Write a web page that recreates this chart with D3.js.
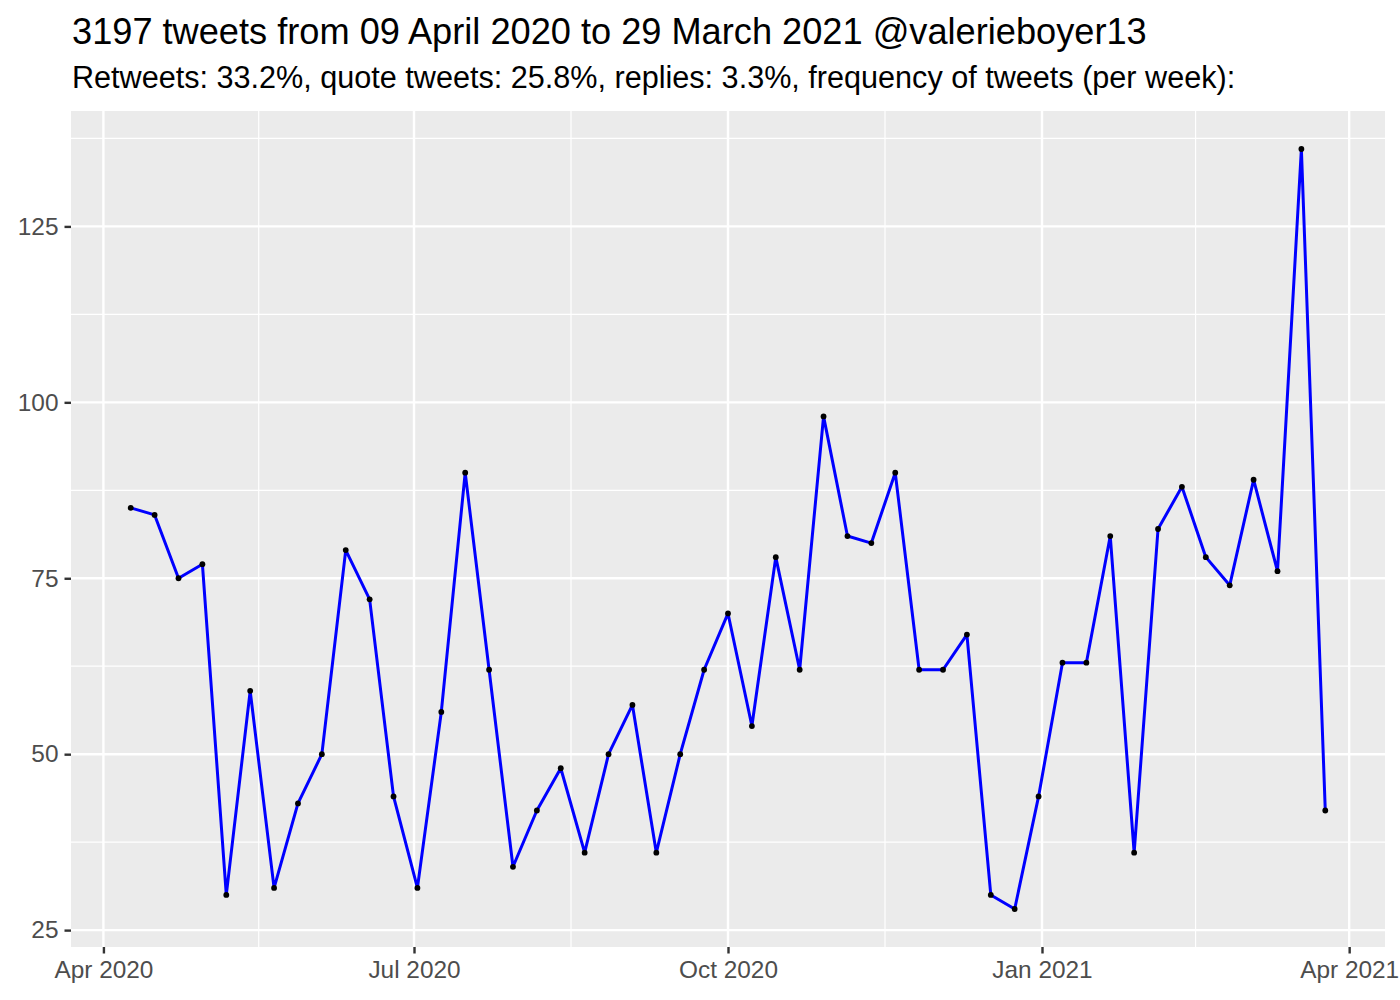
<!DOCTYPE html>
<html><head><meta charset="utf-8">
<script src="https://cdn.jsdelivr.net/npm/d3@7"></script>
<style>body{margin:0;background:#fff}</style>
</head><body>
<svg id="c" width="1400" height="1000"></svg>
<script>
const startDate = "2020-04-09";
const weeklyCounts = [85,84,75,77,30,59,31,43,50,79,72,44,31,56,90,62,34,42,48,36,50,57,36,50,62,70,54,78,62,98,81,80,90,62,62,67,30,28,44,63,63,81,36,82,88,78,74,89,76,136,42];
const yTicks = [25,50,75,100,125];
const yMinor = [37.5,62.5,87.5,112.5,137.5];
const xTickDates = ["2020-04-01","2020-07-01","2020-10-01","2021-01-01","2021-04-01"];
const xTickLabels = ["Apr 2020","Jul 2020","Oct 2020","Jan 2021","Apr 2021"];
const title = "3197 tweets from 09 April 2020 to 29 March 2021 @valerieboyer13";
const subtitle = "Retweets: 33.2%, quote tweets: 25.8%, replies: 3.3%, frequency of tweets (per week):";

const DAY = 86400000;
const t0 = new Date(startDate + "T00:00:00Z");
const data = weeklyCounts.map((v,i)=>({date:new Date(+t0 + i*7*DAY), value:v}));

const FONT = "Liberation Sans, Arial, Helvetica, sans-serif";
const svg = d3.select("#c");
const L=71, R=1385, T=111, B=947;
const dmin = data[0].date, dmax = data[data.length-1].date;
const span = dmax - dmin;
const x = d3.scaleUtc().domain([new Date(+dmin - span*0.05), new Date(+dmax + span*0.05)]).range([L,R]);
const ymin = d3.min(weeklyCounts), ymax = d3.max(weeklyCounts), yr = ymax-ymin;
const y = d3.scaleLinear().domain([ymin - yr*0.05, ymax + yr*0.05]).range([B,T]);

svg.append("rect").attr("x",L).attr("y",T).attr("width",R-L).attr("height",B-T).attr("fill","#EBEBEB");

const g = svg.append("g");
const majorX = xTickDates.map(d=>new Date(d+"T00:00:00Z"));
const majorPx = majorX.map(d=>x(d));
const minorPx = [];
for(let i=0;i<majorPx.length-1;i++) minorPx.push((majorPx[i]+majorPx[i+1])/2);

yMinor.forEach(v=>{ if(y(v)>=T&&y(v)<=B) g.append("line").attr("x1",L).attr("x2",R).attr("y1",y(v)).attr("y2",y(v)).attr("stroke","#fff").attr("stroke-width",1.2);});
minorPx.forEach(p=>{ if(p>=L&&p<=R) g.append("line").attr("x1",p).attr("x2",p).attr("y1",T).attr("y2",B).attr("stroke","#fff").attr("stroke-width",1.2);});
yTicks.forEach(v=>g.append("line").attr("x1",L).attr("x2",R).attr("y1",y(v)).attr("y2",y(v)).attr("stroke","#fff").attr("stroke-width",2.4));
majorPx.forEach(p=>g.append("line").attr("x1",p).attr("x2",p).attr("y1",T).attr("y2",B).attr("stroke","#fff").attr("stroke-width",2.4));

// axes
const yAxis = d3.axisLeft(y).tickValues(yTicks).tickSize(6.5).tickPadding(6);
const ya = svg.append("g").attr("transform",`translate(${L},0)`).call(yAxis);
const xAxis = d3.axisBottom(x).tickValues(majorX).tickFormat((d,i)=>xTickLabels[i]).tickSize(6.5).tickPadding(7);
const xa = svg.append("g").attr("transform",`translate(0,${B})`).call(xAxis);
[ya,xa].forEach(a=>{
  a.select(".domain").remove();
  a.selectAll(".tick line").attr("stroke","#333333").attr("stroke-width",2.4);
  a.selectAll(".tick text").attr("fill","#4D4D4D").attr("font-family",FONT).attr("font-size",24.4);
});

const line = d3.line().x(d=>x(d.date)).y(d=>y(d.value));
svg.append("path").datum(data).attr("d",line).attr("fill","none").attr("stroke","#0000FF").attr("stroke-width",3).attr("stroke-linejoin","round");
svg.selectAll("circle.p").data(data).enter().append("circle").attr("cx",d=>x(d.date)).attr("cy",d=>y(d.value)).attr("r",2.9).attr("fill","#000");

svg.append("text").attr("x",72).attr("y",44).attr("font-family",FONT).attr("font-size",36.2).attr("fill","#000").text(title);
svg.append("text").attr("x",72).attr("y",88).attr("font-family",FONT).attr("font-size",30.6).attr("fill","#000").text(subtitle);
</script>
</body></html>
